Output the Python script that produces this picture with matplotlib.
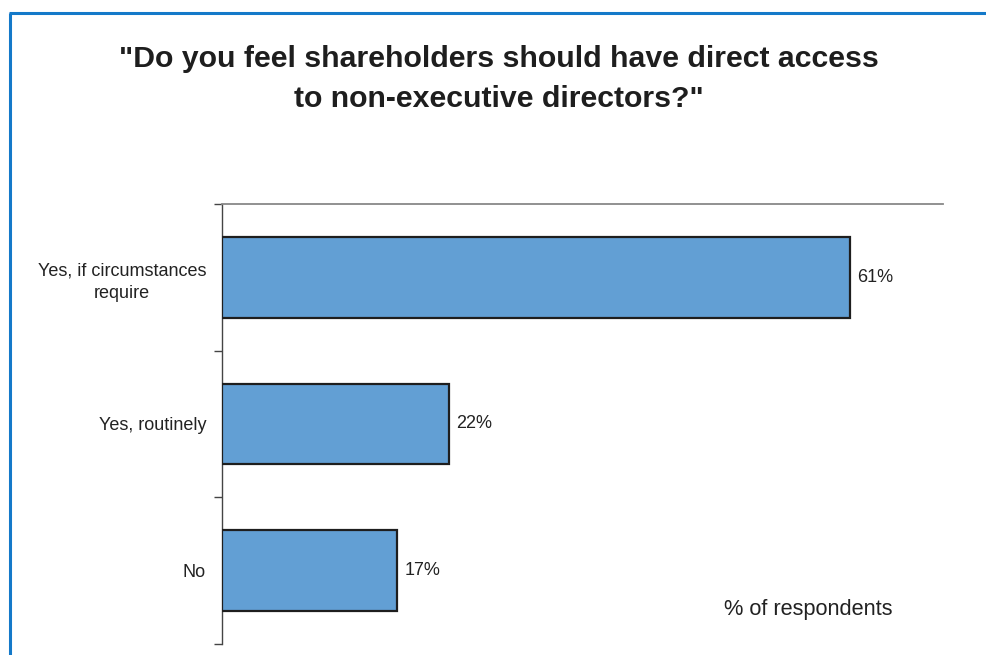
import matplotlib
matplotlib.use("Agg")
import matplotlib.pyplot as plt
from matplotlib.lines import Line2D

plt.rcParams['font.family'] = ['Liberation Sans', 'DejaVu Sans']

categories = ["Yes, if circumstances\nrequire", "Yes, routinely", "No"]
values = [61, 22, 17]
value_labels = ["61%", "22%", "17%"]
title = "\"Do you feel shareholders should have direct access\nto non-executive directors?\""
note = "% of respondents"

W, H = 986, 655
fig = plt.figure(figsize=(W / 100, H / 100), dpi=100)
fig.patch.set_facecolor("white")

# blue frame (left and top edges)
frame_color = "#1479c9"
fig.add_artist(Line2D([9.5 / W, 9.5 / W], [0, 1 - 12.5 / H], transform=fig.transFigure,
                      color=frame_color, lw=2.2, solid_capstyle="butt"))
fig.add_artist(Line2D([8.5 / W, 1], [1 - 12.5 / H, 1 - 12.5 / H], transform=fig.transFigure,
                      color=frame_color, lw=2.2, solid_capstyle="butt"))

left, right, top, bottom = 222, 943, 204, 644
ax = fig.add_axes([left / W, 1 - bottom / H, (right - left) / W, (bottom - top) / H])

n = len(categories)
ypos = list(range(n))
ax.barh(ypos, values, height=0.55, color="#629fd4", edgecolor="#1e1e1e", linewidth=1.6, zorder=3)
ax.set_ylim(n - 0.5, -0.5)
ax.set_xlim(0, 70)

for y, v, lab in zip(ypos, values, value_labels):
    ax.text(v + 0.7, y, lab, va="center", ha="left", fontsize=13, color="#222222")

ax.set_yticks(ypos)
ax.set_yticklabels(categories, fontsize=13, color="#222222", multialignment="center",
                   linespacing=1.45)
ax.tick_params(axis="y", which="major", length=0, pad=11.5)
ax.set_yticks([i - 0.5 for i in range(n + 1)], minor=True)
ax.tick_params(axis="y", which="minor", length=6, width=1, color="#444444", direction="out")
ax.set_xticks([])

for s in ["right", "bottom"]:
    ax.spines[s].set_visible(False)
ax.spines["left"].set_color("#444444")
ax.spines["left"].set_linewidth(1)
ax.spines["top"].set_color("#888888")
ax.spines["top"].set_linewidth(1.3)

fig.text(499 / W, 1 - 79 / H, title, ha="center", va="center", fontsize=21.8, fontweight="bold",
         color="#1e1e1e", linespacing=1.55)
fig.text(808 / W, 1 - 609 / H, note, ha="center", va="center", fontsize=15.7, color="#222222")

fig.savefig("out.png", dpi=100, facecolor="white")
